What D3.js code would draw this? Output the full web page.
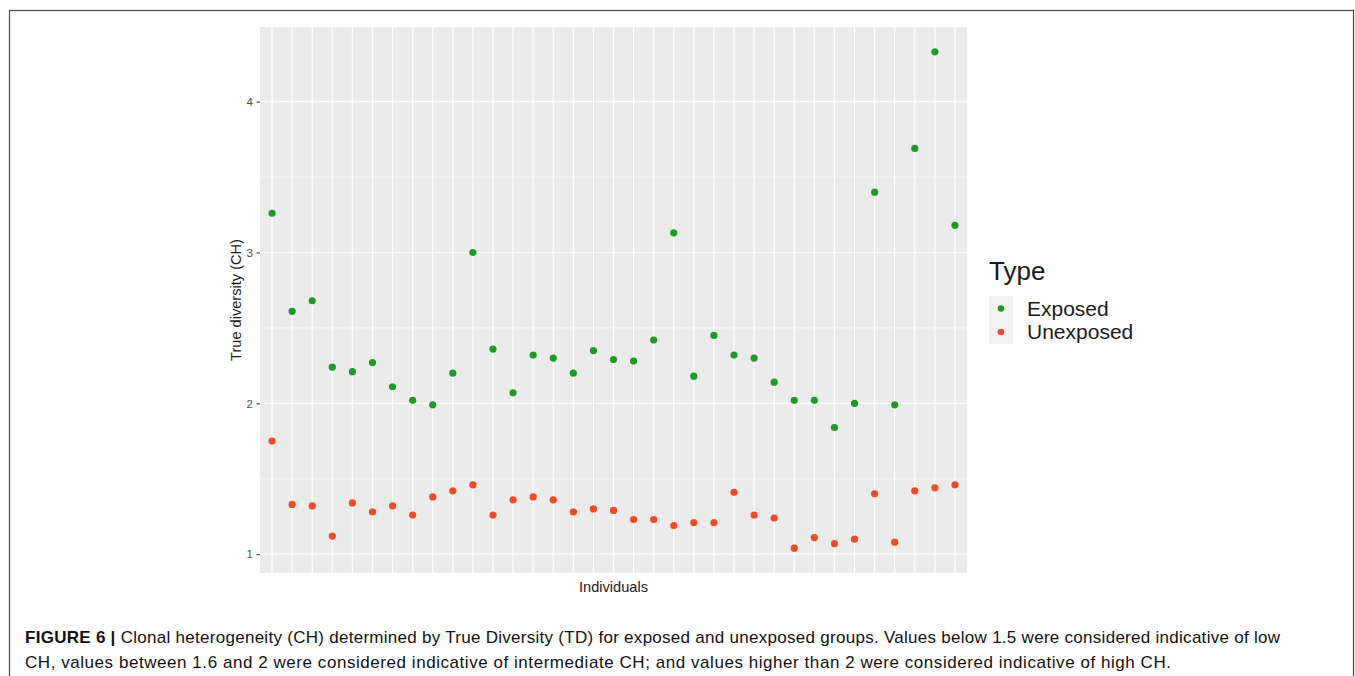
<!DOCTYPE html>
<html>
<head>
<meta charset="utf-8">
<script src="https://cdn.jsdelivr.net/npm/d3@7"></script>
<style>
  html, body { margin: 0; padding: 0; background: #fff; }
  svg { display: block; font-family: "Liberation Sans", Arial, Helvetica, sans-serif; }
</style>
</head>
<body>
<svg id="fig" width="1355" height="676"></svg>
<script>
// ---- data ---------------------------------------------------------------
const individuals = d3.range(1, 36).map(i => "ID" + String(i).padStart(2, "0"));
const exposed = [3.26, 2.61, 2.68, 2.24, 2.21, 2.27, 2.11, 2.02, 1.99, 2.20,
                 3.00, 2.36, 2.07, 2.32, 2.30, 2.20, 2.35, 2.29, 2.28, 2.42,
                 3.13, 2.18, 2.45, 2.32, 2.30, 2.14, 2.02, 2.02, 1.84, 2.00,
                 3.40, 1.99, 3.69, 4.33, 3.18];
const unexposed = [1.75, 1.33, 1.32, 1.12, 1.34, 1.28, 1.32, 1.26, 1.38, 1.42,
                   1.46, 1.26, 1.36, 1.38, 1.36, 1.28, 1.30, 1.29, 1.23, 1.23,
                   1.19, 1.21, 1.21, 1.41, 1.26, 1.24, 1.04, 1.11, 1.07, 1.10,
                   1.40, 1.08, 1.42, 1.44, 1.46];
const types = ["Exposed", "Unexposed"];
const typeColors = ["#1c9c24", "#ef4b24"];
const yTicks = [1, 2, 3, 4];
const yMinor = [1.5, 2.5, 3.5];
const captionLines = [
  [{ t: "FIGURE 6 | ", b: true },
   { t: "Clonal heterogeneity (CH) determined by True Diversity (TD) for exposed and unexposed groups. Values below 1.5 were considered indicative of low", b: false }],
  [{ t: "CH, values between 1.6 and 2 were considered indicative of intermediate CH; and values higher than 2 were considered indicative of high CH.", b: false }]
];

// ---- layout -------------------------------------------------------------
const panel = { left: 260, right: 967, top: 27, bottom: 573 };
const svg = d3.select("#fig");

// outer figure frame
svg.append("rect")
  .attr("x", 9.5).attr("y", 10.5)
  .attr("width", 1344).attr("height", 720)
  .attr("fill", "none").attr("stroke", "#4a4a4a").attr("stroke-width", 1.2);

const points = [];
individuals.forEach((id, i) => {
  points.push({ id, type: types[0], v: exposed[i] });
  points.push({ id, type: types[1], v: unexposed[i] });
});

// scales, with ggplot-like 5% continuous expansion
const [vmin, vmax] = d3.extent(points, d => d.v);
const pad = (vmax - vmin) * 0.05;
const y = d3.scaleLinear().domain([vmin - pad, vmax + pad]).range([panel.bottom, panel.top]);
const x = d3.scalePoint().domain(individuals).range([panel.left, panel.right]).padding(0.6);
const color = d3.scaleOrdinal().domain(types).range(typeColors);

// panel background
svg.append("rect")
  .attr("x", panel.left).attr("y", panel.top)
  .attr("width", panel.right - panel.left).attr("height", panel.bottom - panel.top)
  .attr("fill", "#ebebeb");

// grid lines
const grid = svg.append("g");
grid.selectAll("line.minor").data(yMinor).join("line")
  .attr("x1", panel.left).attr("x2", panel.right)
  .attr("y1", d => y(d)).attr("y2", d => y(d))
  .attr("stroke", "#fff").attr("stroke-width", 0.6);
grid.selectAll("line.majy").data(yTicks).join("line")
  .attr("x1", panel.left).attr("x2", panel.right)
  .attr("y1", d => y(d)).attr("y2", d => y(d))
  .attr("stroke", "#fff").attr("stroke-width", 1.2);
grid.selectAll("line.majx").data(individuals).join("line")
  .attr("x1", d => x(d)).attr("x2", d => x(d))
  .attr("y1", panel.top).attr("y2", panel.bottom)
  .attr("stroke", "#fff").attr("stroke-width", 1.2);

// points
svg.append("g").selectAll("circle").data(points).join("circle")
  .attr("cx", d => x(d.id))
  .attr("cy", d => y(d.v))
  .attr("r", 3.6)
  .attr("fill", d => color(d.type));

// y axis
const yAxis = svg.append("g")
  .attr("transform", `translate(${panel.left},0)`)
  .call(d3.axisLeft(y).tickValues(yTicks).tickSize(3.5).tickPadding(3.5).tickFormat(d3.format("d")));
yAxis.select(".domain").remove();
yAxis.selectAll(".tick line").attr("stroke", "#333").attr("stroke-width", 1.1);
yAxis.selectAll(".tick text")
  .attr("fill", "#4d4d4d").style("font-size", "11.5px")
  .style("font-family", "'Liberation Sans', Arial, sans-serif");

// axis titles
svg.append("text")
  .attr("transform", `translate(241,${(panel.top + panel.bottom) / 2}) rotate(-90)`)
  .attr("text-anchor", "middle")
  .style("font-size", "14.6px").attr("fill", "#1a1a1a")
  .text("True diversity (CH)");
svg.append("text")
  .attr("x", (panel.left + panel.right) / 2).attr("y", 591.5)
  .attr("text-anchor", "middle")
  .style("font-size", "14.6px").attr("fill", "#1a1a1a")
  .text("Individuals");

// legend
const legend = svg.append("g");
legend.append("text")
  .attr("x", 989).attr("y", 279.5)
  .style("font-size", "26px").attr("fill", "#1a1a1a")
  .text("Type");
legend.selectAll("rect.key").data(types).join("rect")
  .attr("x", 989).attr("y", (d, i) => 296 + i * 24)
  .attr("width", 24).attr("height", 24)
  .attr("fill", "#f2f2f2");
legend.selectAll("circle").data(types).join("circle")
  .attr("cx", 1001).attr("cy", (d, i) => 308.5 + i * 23.5)
  .attr("r", 3.3).attr("fill", d => color(d));
legend.selectAll("text.lab").data(types).join("text")
  .attr("class", "lab")
  .attr("x", 1027).attr("y", (d, i) => 315.5 + i * 23.5)
  .style("font-size", "21px").attr("fill", "#1a1a1a")
  .text(d => d);

// caption
const captionWidths = [1255, 1146];
const cap = svg.append("g").attr("fill", "#111");
captionLines.forEach((parts, li) => {
  const t = cap.append("text")
    .attr("x", 25).attr("y", 643 + li * 25)
    .style("font-size", "17px")
    .attr("textLength", captionWidths[li]).attr("lengthAdjust", "spacing");
  parts.forEach(p => t.append("tspan").attr("font-weight", p.b ? "bold" : "normal").text(p.t));
});
</script>
</body>
</html>
